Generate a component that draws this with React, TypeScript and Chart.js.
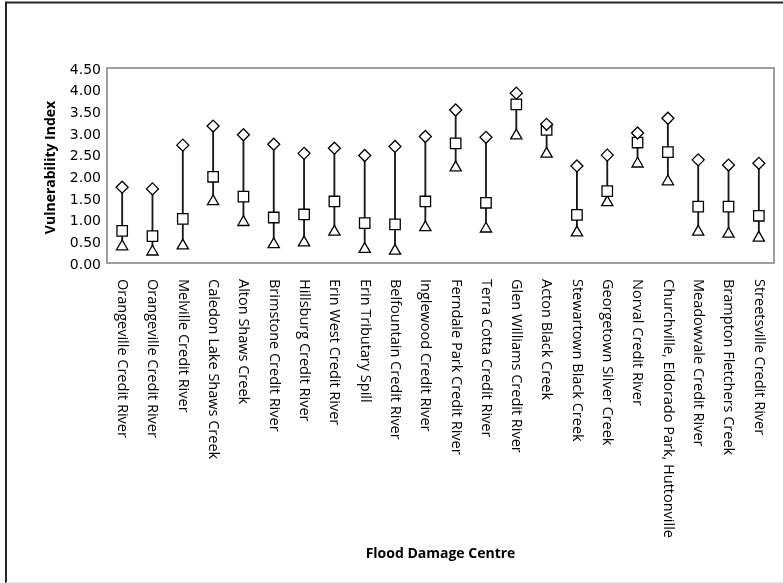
import React, { useEffect, useRef } from "react";
import { Chart, registerables } from "chart.js";

Chart.register(...registerables);

const centres: string[] = [
  "Orangeville Credit River",
  "Orangeville Credit River",
  "Melville Credit River",
  "Caledon Lake Shaws Creek",
  "Alton Shaws Creek",
  "Brimstone Credit River",
  "Hillsburg Credit River",
  "Erin West Credit River",
  "Erin Tributary Spill",
  "Belfountain Credit River",
  "Inglewood Credit River",
  "Ferndale Park Credit River",
  "Terra Cotta Credit River",
  "Glen Williams Credit River",
  "Acton Black Creek",
  "Stewartown Black Creek",
  "Georgetown Silver Creek",
  "Norval Credit River",
  "Churchville, Eldorado Park, Huttonville",
  "Meadowvale Credit River",
  "Brampton Fletchers Creek",
  "Streetsville Credit River",
];

const maxIndex: number[] = [
  1.75, 1.71, 2.72, 3.16, 2.96, 2.74, 2.53, 2.65, 2.48, 2.69, 2.92,
  3.53, 2.90, 3.92, 3.20, 2.24, 2.49, 3.00, 3.34, 2.38, 2.26, 2.30,
];

const meanIndex: number[] = [
  0.74, 0.62, 1.02, 1.99, 1.53, 1.05, 1.12, 1.42, 0.92, 0.89, 1.42,
  2.76, 1.39, 3.66, 3.07, 1.11, 1.66, 2.78, 2.56, 1.30, 1.30, 1.09,
];

const minIndex: number[] = [
  0.38, 0.26, 0.40, 1.42, 0.94, 0.43, 0.47, 0.72, 0.32, 0.28, 0.82,
  2.20, 0.79, 2.94, 2.52, 0.70, 1.40, 2.29, 1.88, 0.72, 0.67, 0.58,
];

const yTicks: number[] = [0, 0.5, 1, 1.5, 2, 2.5, 3, 3.5, 4, 4.5];

const xAxisTitle = "Flood Damage Centre";
const yAxisTitle = "Vulnerability Index";

const W = 783;
const H = 583;

// Outer frame, plot border, rotated category labels and axis titles
const decorations = {
  id: "decorations",
  beforeDraw(chart: any) {
    const ctx = chart.ctx;
    ctx.save();
    ctx.fillStyle = "#ffffff";
    ctx.fillRect(0, 0, W, H);
    ctx.strokeStyle = "#262626";
    ctx.lineWidth = 2;
    ctx.beginPath();
    ctx.moveTo(6, H);
    ctx.lineTo(6, 2.5);
    ctx.lineTo(W, 2.5);
    ctx.stroke();
    ctx.strokeStyle = "#e6e6e6";
    ctx.lineWidth = 1;
    ctx.beginPath();
    ctx.moveTo(6, H - 0.5);
    ctx.lineTo(W, H - 0.5);
    ctx.stroke();
    ctx.restore();
  },
  afterDraw(chart: any) {
    const ctx = chart.ctx;
    const area = chart.chartArea;
    const xs = chart.scales.x;
    ctx.save();
    ctx.strokeStyle = "#808080";
    ctx.lineWidth = 1.5;
    ctx.strokeRect(area.left, area.top, area.right - area.left, area.bottom - area.top);

    ctx.fillStyle = "#000000";
    ctx.font = "14.5px 'Open Sans'";
    ctx.textAlign = "left";
    ctx.textBaseline = "middle";
    centres.forEach((name, i) => {
      const x = xs.getPixelForValue(i);
      ctx.save();
      ctx.translate(x, area.bottom + 16);
      ctx.rotate(Math.PI / 2);
      ctx.fillText(name, 0, 0);
      ctx.restore();
    });

    ctx.font = "bold 14px 'Open Sans'";
    ctx.textAlign = "center";
    ctx.fillText(xAxisTitle, (area.left + area.right) / 2, 554);

    ctx.save();
    ctx.translate(51, (area.top + area.bottom) / 2 + 2);
    ctx.rotate(-Math.PI / 2);
    ctx.font = "bold 14px 'Open Sans'";
    ctx.fillText(yAxisTitle, 0, 0);
    ctx.restore();
    ctx.restore();
  },
};

export default function App() {
  const ref = useRef<HTMLCanvasElement | null>(null);

  useEffect(() => {
    if (!ref.current) return;
    const markerBase = {
      type: "line" as const,
      showLine: false,
      borderColor: "#000000",
      backgroundColor: "#ffffff",
      pointBorderColor: "#000000",
      pointBackgroundColor: "#ffffff",
      pointBorderWidth: 1.3,
      order: 1,
    };
    const chart = new Chart(ref.current, {
      type: "bar",
      data: {
        labels: centres,
        datasets: [
          {
            ...markerBase,
            label: "Max",
            data: maxIndex,
            pointStyle: "rectRot",
            pointRadius: 6,
          },
          {
            ...markerBase,
            label: "Mean",
            data: meanIndex,
            pointStyle: "rect",
            pointRadius: 7.4,
          },
          {
            ...markerBase,
            label: "Min",
            data: minIndex,
            pointStyle: "triangle",
            pointRadius: 6.5,
          },
          {
            type: "bar",
            label: "Range",
            data: minIndex.map((lo, i) => [lo, maxIndex[i]]),
            backgroundColor: "#1a1a1a",
            barThickness: 1.2,
            order: 5,
          } as any,
        ],
      },
      options: {
        responsive: false,
        animation: false,
        layout: { padding: { top: 68, right: 9, left: 0, bottom: 0 } },
        plugins: {
          legend: { display: false },
          tooltip: { enabled: false },
        },
        scales: {
          x: {
            type: "category",
            offset: true,
            grid: { display: false, drawTicks: false },
            border: { display: false },
            ticks: { display: false },
            afterFit: (scale: any) => {
              scale.height = H - 263;
            },
          },
          y: {
            min: 0,
            max: 4.5,
            grid: { display: false, drawTicks: false },
            border: { display: false },
            afterBuildTicks: (scale: any) => {
              scale.ticks = yTicks.map((v) => ({ value: v }));
            },
            ticks: {
              padding: 6,
              labelOffset: 2,
              color: "#000000",
              font: { family: "DejaVu Sans", size: 14 },
              callback: (v: any) => Number(v).toFixed(2),
            },
            afterFit: (scale: any) => {
              scale.width = 107;
            },
          },
        },
      },
      plugins: [decorations],
    });
    return () => chart.destroy();
  }, []);

  return (
    <div style={{ position: "fixed", left: 0, top: 0, width: W, height: H, background: "#fff" }}>
      <canvas ref={ref} width={W} height={H} style={{ display: "block", width: W, height: H }} />
    </div>
  );
}
